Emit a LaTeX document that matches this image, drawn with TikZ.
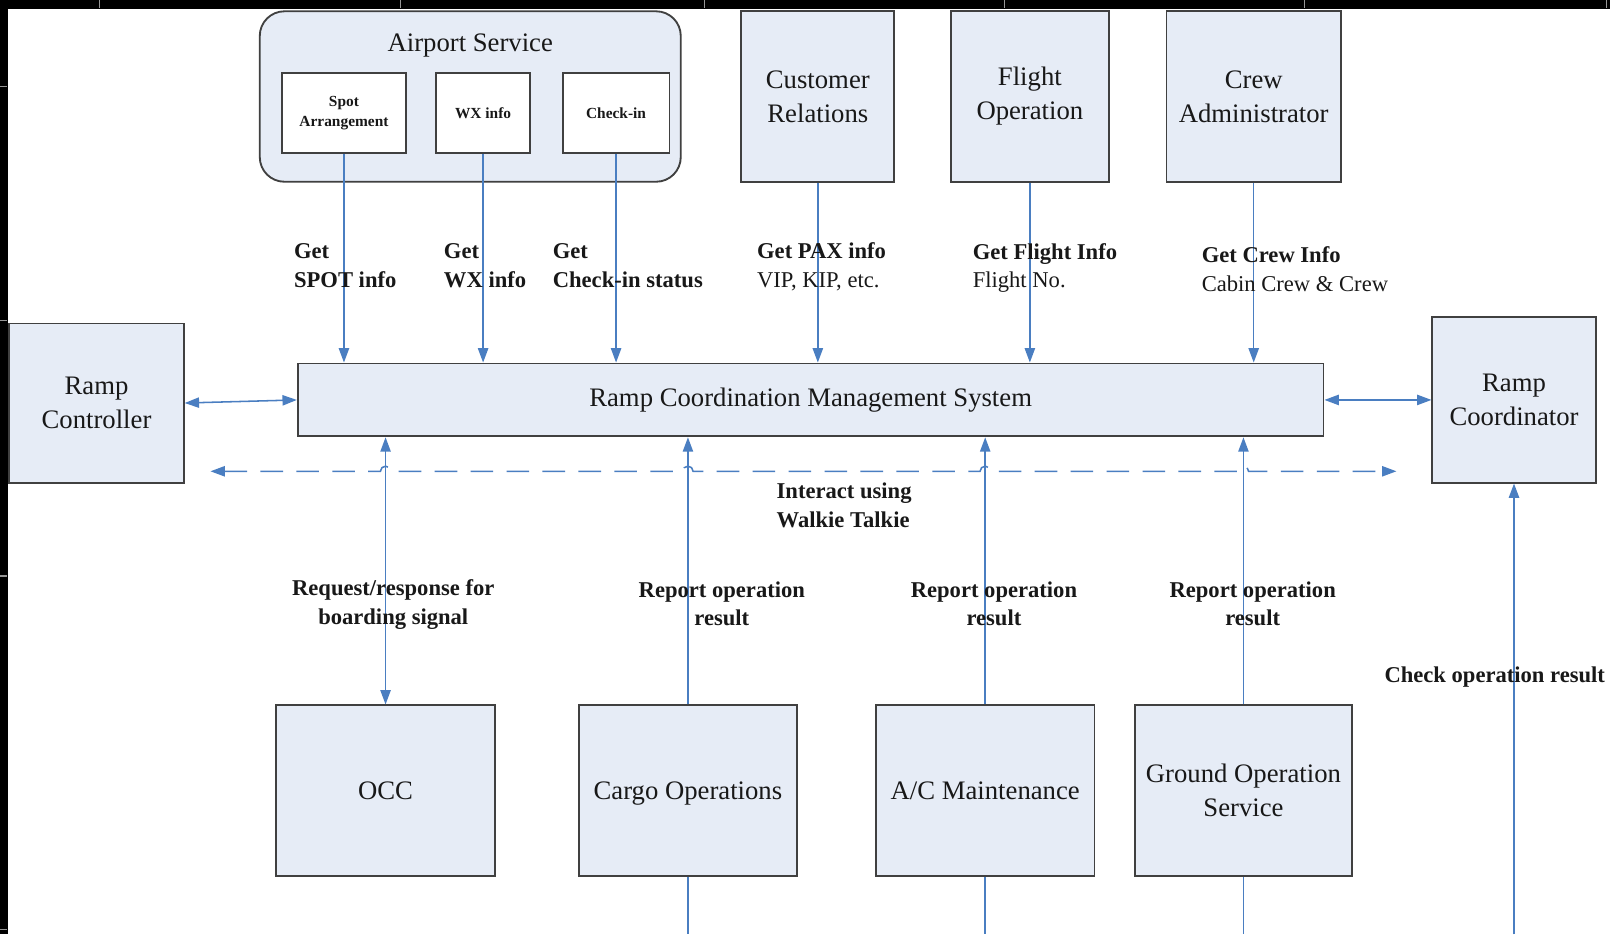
\documentclass[tikz,border=0pt]{standalone}
\usepackage{fontspec}
\setmainfont{Liberation Serif}
\usetikzlibrary{arrows.meta}
\definecolor{boxfill}{RGB}{230,236,246}
\definecolor{boxline}{RGB}{64,64,64}
\definecolor{flow}{RGB}{74,126,193}
\definecolor{inkc}{RGB}{24,24,24}
\definecolor{rulertick}{RGB}{150,150,150}

\begin{document}
\begin{tikzpicture}[x=0.5pt,y=-0.5pt,
  unit/.style={draw=boxline, line width=0.9pt, fill=boxfill, inner sep=2pt,
    align=center, text=inkc, font=\fontsize{13}{16.5}\selectfont},
  subunit/.style={draw=boxline, line width=0.9pt, fill=white, inner sep=2pt,
    align=center, text=inkc, font=\fontsize{7.5}{9.5}\selectfont\bfseries,
    minimum height=39pt},
  lbl/.style={inner sep=0pt, text=inkc, font=\fontsize{11}{14}\selectfont\bfseries},
  link/.style={draw=flow, line width=0.75pt},
  tip/.style={-{Triangle[length=7pt,width=5pt]}},
  tips/.style={{Triangle[length=7pt,width=5pt]}-{Triangle[length=7pt,width=5pt]}},
  radio/.style={link, dash pattern=on 11pt off 6.5pt}
]
% canvas and frame
\path[use as bounding box] (0,0) rectangle (1568,910);
\fill[white] (0,0) rectangle (1568,910);
\fill[black] (0,0) rectangle (1568,9);
\fill[black] (0,0) rectangle (8,910);
\foreach \tx in {97,390,686,978,1270,1565}
  \draw[rulertick, line width=0.5pt] (\tx,0) -- (\tx,8);
\foreach \ty in {84,312,561,905}
  \draw[rulertick, line width=0.6pt] (0,\ty) -- (7,\ty);

% airport service group
\node[unit, rounded corners=12pt, minimum width=205pt, minimum height=83pt] (air) at (458,94) {};
\node[inner sep=0pt, text=inkc, font=\fontsize{13}{16}\selectfont] (airtitle) at (458,44.5) {Airport Service};
\node[subunit, minimum width=60pt] (spot) at (335,110) {Spot\\Arrangement};
\node[subunit, minimum width=45.5pt] (wx) at (470.5,110) {WX info};
\node[subunit, minimum width=52pt] (chk) at (600,110) {Check-in};

% top row
\node[unit, minimum width=74.5pt, minimum height=83pt] (cust) at (796.5,94) {Customer\\Relations};
\node[unit, minimum width=77pt, minimum height=83pt] (flt) at (1003,94) {Flight\\Operation};
\node[unit, minimum width=85pt, minimum height=83pt] (crew) at (1221,94) {Crew\\Administrator};

% middle row
\node[unit, minimum width=85pt, minimum height=77.5pt] (rctl) at (94,392.5) {Ramp\\Controller};
\node[unit, minimum width=499.5pt, minimum height=35.5pt] (rcms) at (789.5,389.5) {Ramp Coordination Management System};
\node[unit, minimum width=79.5pt, minimum height=80.5pt] (rcoord) at (1474.5,389.5) {Ramp\\Coordinator};

% bottom row
\node[unit, minimum width=106.5pt, minimum height=83pt] (occ) at (375.5,770) {OCC};
\node[unit, minimum width=106pt, minimum height=83pt, text depth=0pt] (cargo) at (670,770) {Cargo Operations};
\node[unit, minimum width=106.5pt, minimum height=83pt] (acm) at (959.5,770) {A/C Maintenance};
\node[unit, minimum width=106pt, minimum height=83pt] (gos) at (1211,770) {Ground Operation\\Service};

% free ends
\coordinate (edge) at (0,910);
\coordinate (wl) at (205,459);
\coordinate (wr) at (1360,459);

% walkie-talkie link, hopping over the report lines
\draw[radio, tips] (wl) -- (370.5,459) arc[start angle=180,end angle=0,radius=2.5pt]
  -- (665,459) arc[start angle=180,end angle=0,radius=2.5pt]
  -- (954.5,459) arc[start angle=180,end angle=0,radius=2.5pt]
  -- (1206,459) arc[start angle=180,end angle=0,radius=2.5pt] -- (wr);

% inputs from above
\draw[link, tip] (spot.south) -- (spot.south |- rcms.north);
\draw[link, tip] (wx.south) -- (wx.south |- rcms.north);
\draw[link, tip] (chk.south) -- (chk.south |- rcms.north);
\draw[link, tip] (cust.south) -- (cust.south |- rcms.north);
\draw[link, tip] (flt.south) -- (flt.south |- rcms.north);
\draw[link, tip] (crew.south) -- (crew.south |- rcms.north);

% side links
\draw[link, tips] (rctl.east) -- (rcms.west);
\draw[link, tips] (rcms.east) -- (rcoord.west);

% links from below
\draw[link, tips] (occ.north) -- (occ.north |- rcms.south);
\draw[link, tip] (cargo.north) -- (cargo.north |- rcms.south);
\draw[link, tip] (acm.north) -- (acm.north |- rcms.south);
\draw[link, tip] (gos.north) -- (gos.north |- rcms.south);
\draw[link] (cargo.south) -- (cargo.south |- edge);
\draw[link] (acm.south) -- (acm.south |- edge);
\draw[link] (gos.south) -- (gos.south |- edge);
\draw[link, tip, line width=0.9pt] (rcoord.south |- edge) -- (rcoord.south);

% labels
\node[lbl, anchor=west, align=left] (lspot) at (286,259) {Get\\SPOT info};
\node[lbl, anchor=west, align=left] (lwx) at (432,259) {Get\\WX info};
\node[lbl, anchor=west, align=left] (lchk) at (538,259) {Get\\Check-in status};
\node[lbl, anchor=west, align=left] (lpax) at (737,260) {Get PAX info\\\mdseries VIP, KIP, etc.};
\node[lbl, anchor=west, align=left] (lflt) at (947,261) {Get Flight Info\\\mdseries Flight No.};
\node[lbl, anchor=west, align=left] (lcrew) at (1170,262) {Get Crew Info\\\mdseries Cabin Crew \& Crew};
\node[lbl, anchor=west, align=left] (lwalk) at (756,492) {Interact using\\Walkie Talkie};
\node[lbl, align=center] (lreq) at (383,589) {Request/response for\\boarding signal};
\node[lbl, align=center] (lrep1) at (703,588) {Report operation\\result};
\node[lbl, align=center] (lrep2) at (968,588) {Report operation\\result};
\node[lbl, align=center] (lrep3) at (1220,588) {Report operation\\result};
\node[lbl, anchor=west] (lchkres) at (1348,659) {Check operation result};
\end{tikzpicture}
\end{document}
